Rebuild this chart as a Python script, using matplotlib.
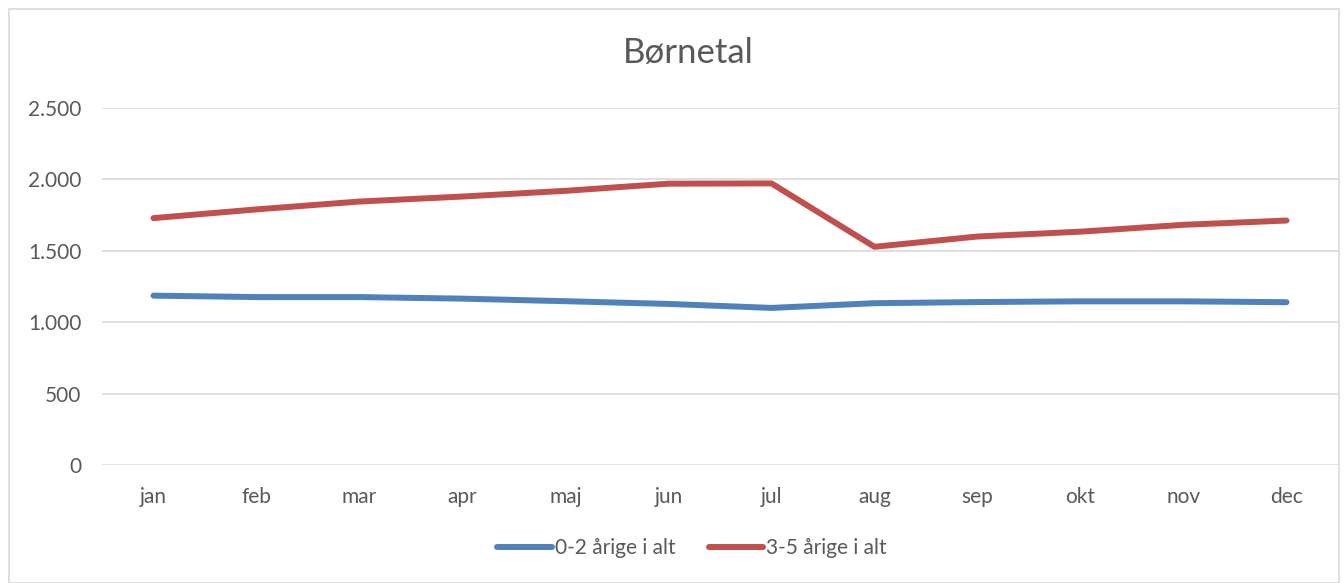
import matplotlib
matplotlib.use("Agg")
import matplotlib.pyplot as plt
from matplotlib.patches import Rectangle
from matplotlib.ticker import FuncFormatter

months = ["jan", "feb", "mar", "apr", "maj", "jun", "jul", "aug", "sep", "okt", "nov", "dec"]
age_0_2 = [1186, 1176, 1176, 1165, 1147, 1128, 1100, 1133, 1141, 1146, 1146, 1140]
age_3_5 = [1729, 1790, 1845, 1880, 1920, 1970, 1972, 1528, 1600, 1634, 1682, 1712]

text_color = "#595959"
plt.rcParams["font.family"] = ["Lato", "DejaVu Sans"]

fig = plt.figure(figsize=(13.44, 5.83), dpi=100)
ax = fig.add_axes([102 / 1344, 1 - 465 / 583, 1236 / 1344, 357 / 583])

x = list(range(len(months)))
ax.plot(x, age_0_2, color="#4F81BD", linewidth=4.3, solid_capstyle="round",
        label="0-2 årige i alt")
ax.plot(x, age_3_5, color="#C0504D", linewidth=4.3, solid_capstyle="round",
        label="3-5 årige i alt")

ax.set_xlim(-0.5, 11.5)
ax.set_ylim(0, 2500)
ax.set_yticks(range(0, 2501, 500))
ax.yaxis.set_major_formatter(FuncFormatter(lambda v, p: f"{int(v):,}".replace(",", ".")))
ax.set_xticks(x)
ax.set_xticklabels(months)
ax.grid(axis="y", color="#D9D9D9", linewidth=1.2)
ax.set_axisbelow(True)
for s in ax.spines.values():
    s.set_visible(False)
ax.tick_params(length=0, labelsize=15, colors=text_color)
ax.tick_params(axis="x", pad=16)
ax.tick_params(axis="y", pad=15)

fig.text(688 / 1344, 1 - 53 / 583, "Børnetal", ha="center", va="center",
         fontsize=25, color=text_color)

fig.legend(loc="center", bbox_to_anchor=(692 / 1344, 1 - 548 / 583), ncol=2,
           frameon=False, fontsize=15, labelcolor=text_color,
           handlelength=2.6, handletextpad=0.15, columnspacing=1.6)

fig.patches.append(Rectangle((9 / 1344, 0), 1330 / 1344, 1 - 9 / 583,
                             transform=fig.transFigure, fill=False,
                             edgecolor="#D9D9D9", linewidth=1.2))

fig.savefig("out.png", dpi=100)
